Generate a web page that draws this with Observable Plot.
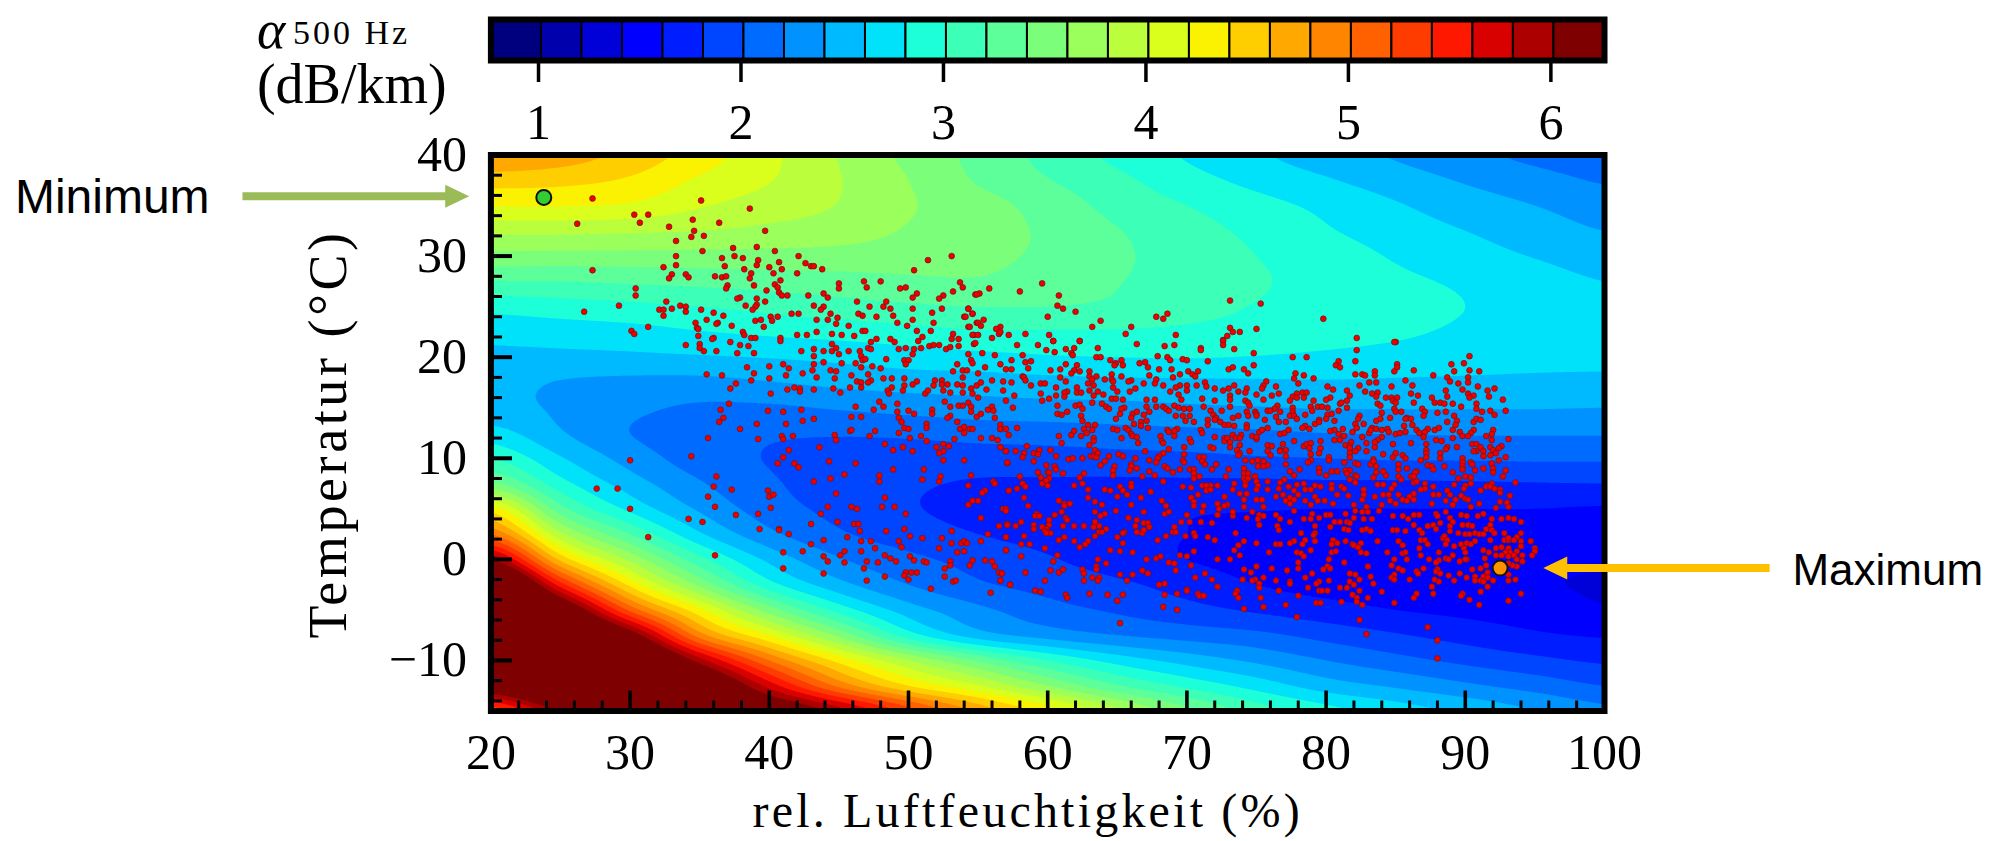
<!DOCTYPE html>
<html>
<head>
<meta charset="utf-8">
<script src="https://cdn.jsdelivr.net/npm/d3@7"></script>
<script src="https://cdn.jsdelivr.net/npm/@observablehq/plot@0.6"></script>
<style>
html,body{margin:0;padding:0;background:#fff;}
#chart{width:2003px;height:841px;position:relative;overflow:hidden;}
svg{display:block;overflow:visible;}
.ylab{letter-spacing:3.6px;}
.xlab{letter-spacing:3.2px;}
.sub{letter-spacing:3px;}
</style>
</head>
<body>
<div id="chart"></div>
<script>
// colour bar
const levels = [1,1.2,1.4,1.6,1.8,2,2.2,2.4,2.6,2.8,3,3.2,3.4,3.6,3.8,4,4.2,4.4,4.6,4.8,5,5.2,5.4,5.6,5.8,6];
const barEdges = [0.75,...levels,6.25];
const jetColors = ["#00007f","#0000ac","#0000d9","#0000ff","#001dff","#0045ff","#006cff","#0093ff","#00baff","#00e1fa","#1cffd8","#3cffb8","#5cff99","#7bff7b","#9bff5c","#bbff3c","#daff1c","#faf200","#ffce00","#ffa900","#ff8500","#ff6100","#ff3c00","#ff1800","#d90000","#ac0000","#7f0000"];
const barTicks = [1,2,3,4,5,6];

// field: rows temperature, columns humidity
const humidityGrid = [20,25,30,35,40,45,50,55,60,65,70,75,80,85,90,95,100];
const temperatureGrid = [40,37.5,35,32.5,30,27.5,25,22.5,20,17.5,15,12.5,10,7.5,5,2.5,0,-2.5,-5,-7.5,-10,-12.5,-15];
const alpha40  = [4.8,4.7,4.53,4.3,4.05,3.79,3.55,3.34,3.14,2.95,2.78,2.63,2.5,2.38,2.26,2.15,2.06];
const alpha37h = [4.49,4.46,4.37,4.17,4.01,3.81,3.6,3.38,3.21,3.05,2.88,2.74,2.62,2.5,2.38,2.28,2.18];
const alpha35  = [4.21,4.21,4.17,4.02,3.9,3.79,3.62,3.48,3.32,3.13,3.0,2.87,2.75,2.62,2.5,2.4,2.3];
const alpha32h = [3.85,3.85,3.83,3.8,3.75,3.7,3.58,3.47,3.37,3.21,3.08,2.95,2.82,2.7,2.6,2.5,2.4];
const alpha30  = [3.54,3.53,3.53,3.53,3.53,3.52,3.49,3.45,3.36,3.23,3.12,3.0,2.9,2.78,2.68,2.59,2.5];
const alpha27h = [3.2,3.2,3.23,3.26,3.29,3.32,3.36,3.38,3.3,3.21,3.1,3.02,2.93,2.84,2.77,2.69,2.6];
const alpha25  = [2.87,2.91,2.95,3.0,3.06,3.12,3.17,3.2,3.2,3.16,3.07,2.99,2.93,2.87,2.8,2.74,2.68];
const alpha22h = [2.67,2.7,2.73,2.79,2.84,2.88,2.93,2.98,2.98,2.98,2.96,2.93,2.88,2.83,2.77,2.72,2.7];
const alpha20  = [2.55,2.55,2.56,2.58,2.61,2.65,2.7,2.74,2.78,2.8,2.81,2.79,2.76,2.73,2.7,2.67,2.65];
const alpha17h = [2.47,2.39,2.35,2.34,2.39,2.45,2.49,2.5,2.53,2.55,2.56,2.57,2.58,2.57,2.56,2.55,2.55];
const alpha15  = [2.47,2.37,2.25,2.17,2.17,2.22,2.27,2.31,2.33,2.34,2.37,2.39,2.41,2.41,2.41,2.41,2.4];
const alpha12h = [2.68,2.42,2.2,2.08,2.03,2.02,2.04,2.08,2.1,2.13,2.15,2.17,2.2,2.21,2.22,2.22,2.22];
const alpha10  = [3.0,2.62,2.32,2.1,1.99,1.93,1.9,1.9,1.91,1.93,1.95,1.98,2.0,2.02,2.02,2.03,2.03];
const alpha7h  = [3.45,2.88,2.5,2.22,2.03,1.9,1.83,1.78,1.77,1.76,1.76,1.76,1.77,1.77,1.78,1.79,1.8];
const alpha5   = [4.3,3.28,2.75,2.37,2.1,1.94,1.82,1.74,1.69,1.65,1.62,1.61,1.6,1.6,1.6,1.6,1.58];
const alpha2h  = [5.0,3.85,3.2,2.63,2.25,2.03,1.9,1.8,1.73,1.66,1.6,1.56,1.54,1.52,1.51,1.51,1.5];
const alpha0   = [6.0,4.55,3.75,3.07,2.55,2.22,2.05,1.93,1.82,1.7,1.6,1.54,1.5,1.47,1.45,1.44,1.43];
const alphaM2h = [7.1,5.5,4.35,3.55,2.88,2.47,2.2,2.03,1.93,1.84,1.72,1.6,1.53,1.49,1.46,1.42,1.38];
const alphaM5  = [7.6,6.5,5.15,4.25,3.5,2.92,2.5,2.25,2.08,1.97,1.87,1.77,1.68,1.6,1.55,1.5,1.42];
const alphaM7h = [7.9,7.2,6.2,4.9,4.2,3.55,2.9,2.5,2.32,2.2,2.12,2.05,1.93,1.82,1.72,1.63,1.58];
const alphaM10 = [7.4,7.6,6.95,5.9,5.0,4.33,3.8,3.37,3.0,2.72,2.52,2.36,2.2,2.07,1.95,1.85,1.77];
const alphaM12h= [6.4,7.0,7.0,6.6,5.72,4.95,4.4,4.02,3.6,3.22,2.95,2.72,2.5,2.37,2.24,2.12,2.0];
const alphaM15 = [5.25,6.05,6.5,6.7,6.4,5.9,5.3,4.75,4.3,3.85,3.45,3.1,2.87,2.7,2.55,2.4,2.25];
const alphaRows = [alpha40,alpha37h,alpha35,alpha32h,alpha30,alpha27h,alpha25,alpha22h,alpha20,alpha17h,alpha15,alpha12h,alpha10,alpha7h,alpha5,alpha2h,alpha0,alphaM2h,alphaM5,alphaM7h,alphaM10,alphaM12h,alphaM15];

// measurements, humidity,temperature pairs
const punkteOben = [27.3,35.7,35.1,35.5,38.6,34.7,30.3,34.1,31.3,34.1,30.7,33.3,36.4,33.3,26.2,33.2,34.5,33.6,32.8,32.9,34.6,32.5,34.4,31.9,35.3,32.0,39.7,32.5,33.3,31.5,35.2,30.5,37.4,30.8,39.1,30.9,40.4,30.5,33.3,30.0,36.6,29.8,37.5,30.0,38.1,29.8,42.1,30.0,51.4,29.6,53.1,30.0,33.3,29.1,32.4,28.9,36.8,29.0,39.2,29.6,39.1,29.1,40.7,29.4,42.6,29.3,43.0,29.0,43.2,29.0,43.8,28.7,27.3,28.6,38.2,28.7,40.0,28.9,40.9,28.7,50.4,28.6,38.7,28.3,40.3,28.3,42.0,28.3,33.0,28.2,34.0,28.2,34.2,27.9,32.8,27.8,36.1,28.0,36.6,27.9,36.9,28.0,38.6,27.8,40.8,27.6,45.0,27.3,46.8,27.5,48.0,27.5,53.7,27.4,47.0,26.9,53.9,26.9,49.4,26.8,49.8,26.9,45.0,26.8,30.4,26.8,37.0,27.1,36.9,26.8,38.9,27.1,40.4,27.2,40.6,26.9,39.8,26.6,53.2,26.5,40.7,26.4,40.9,26.1,41.3,26.1,30.4,26.1,42.8,26.1,43.9,26.3,44.2,25.9,50.6,26.3,50.3,25.9,52.5,26.1,52.2,25.8,54.8,26.2,39.1,25.8,37.9,25.9,37.7,25.8,39.7,25.5,32.6,25.5,46.3,25.5,48.4,25.5,29.2,25.1,33.6,25.1,34.0,25.0,38.3,25.1,39.1,25.2,39.0,25.0,43.2,25.1,43.9,25.0,47.2,25.0,48.2,25.0,48.7,24.8,50.3,24.8,52.4,24.8,54.3,24.8,32.1,24.7,32.4,24.7,33.0,24.8,34.0,24.5,35.1,24.7,38.8,24.7,43.7,24.7,26.7,24.5,36.0,24.4,32.4,24.1,36.7,24.1,41.6,24.3,42.1,24.3,44.4,24.3,46.4,24.3,46.7,24.1,47.7,24.0,48.9,24.1,51.7,24.4,54.6,24.3,54.0,24.0,40.1,24.0,40.6,24.0,40.2,23.6,44.9,23.9,43.4,23.7,44.2,23.7,50.3,23.7,35.5,23.7,39.0,23.6,39.4,23.7,34.7,23.4,36.3,23.4,36.2,23.3,49.2,23.4,51.8,23.4,54.9,23.4,44.8,23.3,31.3,23.0,37.3,23.1,39.6,23.0,45.7,23.1,49.9,23.1,54.3,23.0,34.8,22.9,34.9,22.8,30.1,22.6,30.3,22.3,38.1,22.5,38.2,22.2,43.4,22.5,46.7,22.6,46.9,22.6,50.6,22.6,51.6,22.6,34.9,22.1,42.0,22.2,42.7,22.2,44.5,22.3,45.2,22.2,46.1,22.1,53.2,22.3,54.7,22.2,36.0,21.9,35.9,21.8,38.7,21.9,39.0,21.9,40.8,21.9,40.8,21.6,47.7,21.8,48.7,21.8,51.0,22.0,50.7,21.6,53.1,21.8,53.6,21.8,37.2,21.5,47.3,21.5,49.0,21.5,44.5,21.3,54.7,21.3,34.0,21.2,35.0,21.3,37.9,21.2,38.5,21.1,49.3,20.8,49.8,20.9,50.4,20.8,50.9,20.9,51.5,21.1,51.8,21.2,52.2,21.2,52.7,20.8,53.0,21.0,53.6,21.1,47.1,20.9,47.3,20.8,35.0,20.9,35.3,20.6,36.2,20.6,42.3,20.6,43.2,20.8,43.9,20.6,44.5,20.6,44.8,20.9,45.7,20.6,46.5,20.6,37.7,20.4,38.9,20.4,45.0,20.3,54.3,20.3,43.2,20.1,46.6,20.1,50.3,20.3,46.7,19.7,46.9,19.8,48.4,19.8,49.7,19.7,50.0,19.7,54.5,19.7,54.6,19.4,43.9,19.5,45.2,19.4,46.2,19.4,49.8,19.3,43.2,19.3,38.4,19.0,40.0,19.1,41.0,19.3,41.4,18.9,46.6,19.0,47.4,19.1,53.5,19.3,43.1,18.7,44.4,18.7,44.8,18.6,48.0,18.9,35.5,18.3,36.6,18.2,38.9,18.4,41.2,18.2,42.4,18.4,47.1,18.3,45.9,18.2,53.2,18.6,53.9,18.7,54.2,18.7,53.9,18.0,40.0,17.9,38.7,17.7,43.4,18.0,44.7,17.9,48.2,17.9,48.8,17.9,49.7,17.9,50.6,17.6,51.9,17.7,52.4,17.7,50.3,17.3,46.3,17.6,47.3,17.7,47.1,17.5,46.6,17.5,52.4,17.3,52.8,17.3,53.5,17.3,53.9,17.2,54.9,17.2,37.6,17.4,37.2,16.9,41.8,17.0,42.2,16.9,42.2,16.6,41.3,16.8,43.2,16.8,44.6,16.9,45.8,17.0,46.6,17.0,48.8,17.0,49.7,17.2,51.8,17.2,54.5,16.9,40.1,16.4,45.1,16.5,48.5,16.7,49.6,16.7,51.2,16.4,51.4,16.7,52.5,16.7,53.0,16.5,53.9,16.5,54.6,16.4,48.6,16.4,27.6,7.0,29.1,7.0,30.0,9.8,30.0,5.0,54.8,21.4,55.3,20.4,55.0,18.4,55.5,19.0,55.2,17.5,55.6,16.8,55.0,16.0,56.0,17.7,56.2,20.2,55.8,26.8,55.1,26.3,54.9,26.2,54.3,24.8,54.6,24.3,54.1,24.0,55.4,23.7,55.0,23.4,55.2,23.1,54.4,23.0,54.6,22.2,55.0,22.2,56.0,21.9,56.5,22.3];
const punkteMitteLinks = [37.1,15.4,36.5,14.8,36.7,14.0,36.4,13.6,37.9,12.9,39.9,14.7,39.1,13.4,41.0,14.6,41.2,13.4,42.3,14.8,42.4,13.7,43.2,13.9,35.6,12.0,39.2,11.9,40.9,12.2,41.0,11.9,41.7,12.2,44.7,12.3,44.8,11.8,45.8,12.7,45.9,12.8,45.9,14.1,46.6,14.1,46.2,15.1,47.5,14.8,47.6,12.7,47.2,12.2,48.2,15.1,47.9,15.6,49.2,15.4,49.2,14.6,49.3,14.0,49.5,13.6,49.7,13.0,50.0,12.9,49.3,12.5,50.1,12.0,50.0,14.7,50.4,14.4,51.7,14.8,51.7,14.4,51.3,13.4,51.3,13.0,50.9,12.2,51.3,11.7,52.6,15.6,53.0,15.1,53.0,14.2,52.8,14.0,53.5,13.6,53.6,15.2,53.9,15.2,54.3,15.5,54.5,15.1,54.5,14.6,54.9,14.1,55.2,14.4,55.7,14.8,56.0,15.1,56.1,14.7,56.2,14.0,53.7,12.9,54.0,13.1,54.0,12.5,54.4,12.9,54.6,12.9,53.3,11.9,55.2,12.0,56.0,12.0,56.4,11.8,56.6,13.3,56.6,12.9,34.4,10.2,41.4,10.8,41.0,10.1,40.6,9.5,41.8,9.5,42.1,9.1,43.6,11.1,44.3,9.7,46.2,9.5,48.3,11.4,48.9,10.8,49.6,11.1,50.3,10.7,52.0,11.1,52.5,11.4,52.9,11.2,52.5,10.7,52.2,10.5,52.5,9.8,54.0,9.8,56.6,11.1,57.0,10.7,57.1,9.5,36.2,8.2,36.0,7.2,37.3,6.9,35.6,6.2,36.1,5.2,37.6,4.4,34.2,4.0,35.2,3.7,31.3,2.2,36.1,0.4,39.9,6.8,40.0,6.2,40.3,6.4,40.1,5.1,39.2,4.5,39.3,3.0,40.7,3.0,40.7,2.9,41.4,2.5,43.2,7.7,44.4,8.0,45.4,8.4,47.9,8.3,47.9,7.7,48.9,8.9,51.1,8.9,51.0,7.9,52.3,8.2,52.2,7.7,54.5,8.3,54.3,7.3,56.1,7.7,56.2,7.5,55.5,6.8,55.3,6.6,57.2,6.8,44.8,6.5,48.3,6.1,44.2,5.2,45.9,5.2,46.3,5.0,48.1,5.2,49.0,5.2,54.6,5.8,55.0,5.8,54.3,5.4,56.8,5.0,57.0,5.0,43.7,4.5,49.8,4.5,55.2,4.1,44.9,3.7,43.0,3.5,46.1,3.5,46.4,3.5,56.5,3.3,57.1,3.5,46.5,2.8,48.4,2.8,49.7,3.0,53.1,2.8,55.7,2.5,45.6,2.2,50.1,2.3,51.0,2.1,52.4,2.1,57.0,2.2,43.9,1.9,43.0,1.5,46.6,1.8,47.3,1.8,49.3,1.8,53.1,1.6,53.8,1.6,54.0,1.8,54.2,1.6,55.2,1.8,49.5,1.2,47.6,1.1,52.2,1.1,57.0,0.9,41.0,0.7,42.4,0.8,45.4,0.8,46.6,0.8,45.1,0.4,43.9,0.3,48.3,0.4,48.7,0.1,50.1,0.3,53.5,0.7,54.0,0.8,44.2,-0.2,45.4,-0.3,47.0,-0.2,47.8,-0.3,49.1,-0.2,50.4,-0.1,51.1,-0.2,51.3,-0.3,53.0,-0.2,54.6,-0.1,55.5,-0.1,56.0,-0.2,41.0,-0.9,46.8,-0.9,53.0,-0.6,52.6,-0.9,54.4,-0.6,56.2,-0.7,43.9,-1.4,49.8,-1.3,50.2,-1.3,50.6,-1.3,49.7,-1.6,48.3,-1.7,52.6,-1.7,56.5,-1.3,56.7,-1.4,47.0,-2.1,50.0,-2.0,53.2,-2.2,53.4,-2.1,56.6,-2.1,57.3,-2.5,51.6,-2.9,55.9,-3.3];
const punkteMitteOben = [59.6,27.3,58.0,26.5,60.8,26.1,60.7,25.1,61.1,24.8,62.0,24.5,73.1,25.6,75.3,25.3,79.8,23.8,60.0,24.0,67.8,24.0,68.6,24.3,68.3,23.8,63.8,23.6,63.2,23.0,66.0,23.0,56.6,23.0,56.3,22.8,56.6,22.5,58.4,22.3,57.2,22.2,60.1,22.2,65.6,22.3,69.2,22.2,73.1,22.9,73.3,22.5,73.8,22.5,75.0,22.8,72.9,22.1,72.6,21.7,82.2,21.9,85.0,21.5,60.4,21.6,62.3,21.6,57.8,21.2,59.3,21.2,60.4,21.6,62.3,21.6,61.3,20.8,61.9,20.9,63.6,20.9,66.4,21.3,68.4,21.1,69.1,21.2,71.0,20.9,71.0,20.7,72.6,21.6,72.6,21.2,73.4,20.8,59.9,20.7,60.5,20.5,61.7,20.4,61.8,20.2,58.2,20.2,74.8,20.4,63.5,20.0,63.8,20.0,67.9,20.1,68.6,20.0,68.8,19.7,69.7,19.8,70.0,19.7,71.5,19.6,57.4,19.7,58.4,19.5,58.8,19.6,64.5,19.7,65.3,19.7,64.9,19.4,64.8,19.2,66.6,19.4,67.0,19.5,65.4,19.2,61.3,19.3,62.1,19.2,74.8,19.2,56.6,19.3,57.0,18.8,57.4,18.8,58.6,18.9,60.2,18.7,60.9,18.8,61.9,18.7,62.3,18.6,63.0,18.6,67.2,19.0,68.0,18.8,68.9,18.8,73.0,18.8,73.3,19.0,74.1,18.8,74.4,18.4,70.8,18.6,70.1,18.6,70.4,18.3,58.2,18.1,58.3,18.0,58.4,17.7,61.7,18.4,60.9,18.0,61.3,17.6,63.0,18.1,63.5,18.1,63.2,17.8,64.1,17.8,64.6,18.3,65.3,18.1,64.6,17.8,67.3,18.2,67.8,17.8,69.0,18.0,69.5,18.3,70.6,18.1,56.8,17.6,57.4,17.5,58.8,17.2,59.5,17.4,59.8,17.4,62.9,17.4,63.3,17.2,64.7,17.6,66.0,17.7,65.8,17.6,66.9,17.4,67.7,17.4,68.3,17.2,69.5,17.2,70.0,17.2,70.7,17.2,71.3,17.5,71.4,17.1,73.4,17.2,75.7,17.6,75.5,17.2,56.8,16.7,60.6,17.0,62.1,17.0,64.7,17.0,65.0,16.6,66.3,16.9,65.9,16.6,69.2,17.0,68.8,16.6,69.4,16.3,70.0,16.7,72.0,16.9,72.6,16.7,73.0,16.9,73.7,16.6,74.3,16.9,74.2,16.5,75.4,16.9,61.4,16.6,62.1,16.5,62.4,16.5,63.0,16.7,63.6,16.6,57.6,16.2,59.5,16.4,60.6,16.2,61.2,16.5,61.2,16.1,63.3,16.2,64.0,16.3,64.6,15.9,64.9,15.9,65.4,15.8,71.1,15.9,73.1,16.2,75.0,16.3,60.1,15.9,57.0,15.7,59.6,15.7,63.2,15.5,67.1,15.8,67.7,15.8,69.6,15.8,72.0,15.7,73.1,15.8,74.2,15.7,74.4,15.5,75.5,15.8,57.5,15.0,60.7,15.2,62.0,15.2,62.3,15.3,63.9,15.4,64.2,15.1,64.4,14.9,65.5,15.0,65.3,14.9,67.1,15.1,67.8,15.1,68.3,15.1,69.1,15.2,68.5,14.9,68.7,14.7,69.4,15.0,69.8,14.9,70.2,14.9,71.2,15.1,73.1,15.1,74.5,15.2,71.7,14.7,72.5,14.7,62.5,14.9,60.7,14.4,61.0,14.3,61.4,14.6,62.4,14.2,65.2,14.4,66.1,14.4,66.4,14.6,66.9,14.3,67.3,14.6,69.2,14.2,69.7,14.2,70.2,14.2,71.9,14.3,72.1,14.0,71.5,13.8,73.3,14.0,73.7,14.2,74.3,14.6,74.9,14.6,75.0,14.4,74.4,14.2,75.0,14.2,75.8,14.7,64.9,13.9,66.0,14.0,62.5,13.7,66.2,13.4,66.7,13.6,67.1,13.7,69.9,13.7,70.5,13.6,71.5,13.3,72.0,13.8,72.4,13.6,72.7,13.3,73.0,13.3,73.4,13.2,74.3,13.3,75.6,13.8,56.6,12.9,57.0,12.9,57.8,13.0,62.9,13.3,63.4,13.3,62.6,12.9,67.2,13.0,65.6,13.0,64.7,12.9,66.7,13.2,74.3,13.0,71.0,12.8,69.3,12.9,68.6,12.8,69.1,12.7,65.8,12.8,75.8,13.0,57.2,12.3,60.8,12.2,61.7,12.3,61.9,12.7,62.4,12.2,62.8,12.5,63.2,12.8,65.0,12.8,65.3,12.0,66.0,12.4,66.1,12.2,66.4,12.1,68.1,12.2,68.7,12.6,69.1,12.2,71.1,12.5,72.0,12.1,72.7,12.0,73.3,12.3,73.9,12.3,75.2,12.6,75.4,12.8,74.7,12.2,61.0,11.5,63.3,12.0,63.3,11.7,66.5,11.5,68.2,11.7,68.3,11.5,70.2,11.9,70.3,11.6,72.7,11.7,72.9,12.0,73.1,11.6,73.5,12.0,73.8,12.0,75.0,11.9,73.8,11.3,75.0,12.1,56.6,11.1,58.5,11.2,63.0,11.3,69.8,11.1,71.7,11.1,71.9,11.0,73.1,11.1,75.8,11.3,57.0,10.7,57.7,10.7,58.3,10.5,59.4,10.8,60.2,10.8,59.0,10.5,59.3,10.4,63.4,10.8,63.6,10.5,67.0,10.7,68.7,10.9,68.3,10.5,73.6,10.8,73.8,10.5,74.5,10.7,75.8,10.7,58.2,10.1,60.6,10.2,63.1,10.2,63.3,10.2,63.5,10.1,64.4,10.2,65.1,10.4,65.4,10.2,66.3,10.0,68.0,10.2,67.9,10.0,69.8,10.4,70.9,10.1,71.2,10.1,73.7,10.3,61.5,9.9,61.8,10.0,62.5,10.0,57.1,9.6,59.0,9.7,64.1,9.7,66.0,9.4,67.3,9.8,67.8,9.6,69.7,9.8,69.8,9.6,71.1,9.7,71.3,9.4,72.1,9.4,74.2,9.8,74.7,9.7,75.1,9.8,75.5,9.7,75.8,9.3,59.9,9.3,60.5,9.2,63.8,9.3,64.8,9.2,66.4,9.0,66.0,9.2,68.4,9.2,68.6,9.0,69.5,8.9,70.2,8.9,70.5,8.9,71.8,8.9,73.0,8.9,74.1,9.0,75.1,9.2,75.5,9.2,59.3,8.6,60.0,8.6,60.1,8.6,60.6,8.9,61.1,8.5,62.6,8.5,64.7,8.8,64.7,8.3,65.9,8.8,67.3,8.7,67.7,8.3,69.0,8.6,70.5,8.5,70.5,8.0,70.9,8.2,72.8,8.2,74.1,8.5,74.4,8.5,74.9,8.2,74.1,8.0,58.0,8.2,59.5,8.1,60.1,8.0,62.3,8.1,66.8,8.2,68.3,7.7,74.2,7.7,74.4,8.0,59.9,7.8,58.2,7.5,59.6,7.5,60.0,7.3,61.9,7.3,62.5,7.5,58.4,7.2,57.8,7.0,66.0,7.5,66.0,7.2,71.1,7.3,71.7,7.3,72.2,7.3,71.4,7.3,69.7,7.2,70.3,7.1,73.4,7.5,74.2,7.3,75.0,7.7,75.1,7.3,75.8,7.7,57.2,6.8,62.9,6.9,64.1,6.9,64.5,6.8,65.2,7.2,65.4,6.8,67.4,6.7,71.4,6.8,71.7,6.9,73.3,6.9,73.8,6.5,74.3,6.5,75.0,6.9,75.8,6.9,58.3,6.1,62.9,6.1,65.0,6.2,65.7,6.4,66.7,6.1,70.3,6.1,70.8,6.4,72.7,6.2,74.1,5.9,75.0,5.9,75.4,5.9,58.6,5.3,60.8,5.8,61.2,5.5,61.6,5.5,61.2,5.3,63.4,5.7,63.9,5.4,66.0,5.4,68.2,5.8,68.5,5.3,70.5,5.7,70.5,5.3,71.2,5.3,72.2,5.5,72.9,5.4,72.7,5.3,72.3,5.0,74.1,5.2,75.5,5.2];
const punkteMitteUnten = [57.0,4.8,59.2,4.5,59.1,4.3,59.4,4.3,61.0,4.7,60.5,4.4,63.4,4.7,64.1,4.5,63.8,4.3,64.9,4.8,65.8,4.1,66.9,4.7,68.4,4.5,68.7,4.7,70.0,4.4,71.1,4.7,72.2,4.4,73.3,4.3,73.3,4.7,74.3,4.1,75.2,4.4,75.1,4.0,74.7,4.7,75.5,4.3,58.1,3.7,60.1,3.9,61.3,4.1,61.4,3.9,63.4,3.7,66.4,3.9,66.9,3.6,67.2,3.6,69.6,3.7,70.2,3.7,71.0,3.7,71.8,3.6,75.2,3.4,57.1,3.4,57.7,3.3,59.0,3.4,59.0,3.0,59.6,3.2,60.1,3.4,59.9,3.0,61.1,3.3,61.9,3.3,62.6,3.3,63.3,3.2,63.7,3.3,64.2,3.0,66.3,3.3,67.3,3.2,69.1,3.2,59.8,2.8,60.2,2.6,59.9,2.6,63.7,2.7,63.9,2.7,65.5,2.7,65.4,2.6,66.4,2.7,66.8,2.6,66.9,2.9,69.0,2.7,69.2,2.7,70.5,2.6,73.5,2.6,57.0,2.2,58.3,2.3,61.2,2.2,63.4,2.3,65.0,2.2,68.5,2.3,69.9,2.3,70.6,2.3,71.5,2.2,72.0,1.9,74.1,1.8,60.8,1.9,61.9,1.8,62.9,1.8,67.9,1.9,58.1,1.5,58.7,1.5,62.7,1.5,65.4,1.6,62.3,1.2,73.7,1.4,75.0,1.6,57.0,0.9,59.8,1.1,64.5,0.9,65.2,0.8,66.1,0.7,70.5,0.8,73.4,0.9,75.9,0.7,58.1,0.3,60.7,0.4,69.5,0.4,70.0,0.3,73.8,0.4,63.6,0.0,67.1,0.0,67.8,0.1,68.1,0.3,72.2,0.0,73.1,0.0,60.4,-0.2,64.2,-0.4,68.7,-0.3,69.1,-0.4,70.3,-0.6,75.0,-0.7,63.5,-0.7,62.5,-1.0,63.5,-1.0,69.2,-1.1,66.8,-1.1,74.1,-1.0,56.7,-1.4,58.4,-1.3,60.2,-1.1,60.8,-1.3,61.1,-1.0,62.6,-1.4,65.2,-1.5,66.1,-1.5,67.2,-1.4,71.3,-1.4,74.6,-1.3,63.2,-1.8,63.7,-1.8,70.6,-1.8,71.8,-2.0,74.0,-2.0,74.9,-2.0,75.5,-1.8,74.7,-2.1,56.6,-2.1,59.8,-2.1,62.6,-2.1,63.6,-2.1,65.7,-2.1,75.2,-2.4,57.3,-2.5,68.0,-2.5,68.4,-2.4,72.2,-2.7,75.2,-2.8,59.1,-3.1,59.5,-3.2,70.0,-3.0,70.0,-3.1,73.6,-3.1,70.8,-3.4,73.5,-3.4,61.3,-3.5,61.4,-3.8,63.0,-3.4,64.3,-3.5,65.4,-3.5,68.4,-3.5,69.3,-3.4,70.9,-3.6,71.2,-3.6,73.7,-3.8,75.3,-3.8,65.0,-4.1,68.3,-4.7,69.3,-5.0,74.1,-4.9,75.5,-4.7,65.2,-6.3];
const punkteRechtsOben = [84.9,21.5,82.2,20.7,77.6,20.0,78.6,20.0,90.3,20.1,80.9,19.6,82.1,19.6,80.7,19.2,81.0,19.0,85.1,19.3,85.1,19.0,89.0,19.3,89.9,19.4,84.9,18.6,83.5,18.6,86.3,18.7,89.2,18.6,90.3,18.7,91.0,18.6,77.8,18.4,78.4,18.2,82.1,18.3,82.6,18.3,82.8,18.2,83.5,18.2,87.7,18.2,88.7,18.0,90.2,18.0,77.7,17.9,79.1,17.9,85.7,17.7,88.9,17.6,90.2,17.5,78.0,17.4,83.1,17.5,83.6,17.5,86.2,17.2,89.5,17.4,76.4,17.1,80.1,17.1,82.4,17.2,84.7,17.1,89.8,16.8,90.9,17.1,92.1,16.9,80.5,16.8,81.5,16.7,82.8,16.6,88.6,16.7,91.6,16.7,76.1,16.2,76.6,16.4,77.9,16.4,78.3,16.5,78.6,16.5,81.7,16.2,83.3,16.4,83.7,16.5,86.1,16.4,86.6,16.2,90.2,16.4,90.6,16.2,91.7,16.1,88.7,16.1,77.6,16.1,77.9,16.0,78.4,16.0,80.3,16.0,81.5,15.7,83.6,16.1,84.3,16.0,84.7,16.0,85.1,16.0,87.6,16.0,90.3,16.0,92.7,15.8,77.4,15.7,79.1,15.7,80.0,15.8,84.8,15.7,76.5,15.2,81.0,15.4,81.1,15.5,83.7,15.4,85.0,15.5,86.3,15.5,87.8,15.5,88.2,15.5,88.5,15.4,89.1,15.4,90.8,15.4,76.3,14.9,77.6,15.0,78.9,15.1,79.4,15.1,79.7,15.1,80.1,15.0,81.5,15.0,83.9,15.2,89.7,15.1,90.8,14.9,76.7,14.6,76.0,14.7,77.6,14.6,79.0,14.7,80.9,14.7,84.9,14.9,86.9,14.9,84.0,14.5,85.0,14.6,85.4,14.6,87.1,14.6,88.0,14.5,88.6,14.6,91.2,14.6,91.8,14.7,92.9,14.7,76.4,14.1,77.4,14.2,77.7,14.2,78.5,14.3,80.1,14.3,80.4,14.4,82.4,14.2,84.6,14.0,85.8,14.0,87.0,14.2,89.2,14.2,92.1,14.3,77.9,13.9,77.1,13.6,76.6,13.6,79.5,13.8,80.0,13.9,80.6,13.7,82.3,13.9,83.6,13.7,83.9,13.9,85.7,13.9,86.1,13.9,88.7,13.6,89.4,13.7,90.6,13.6,90.8,13.9,91.1,13.8,78.5,13.2,79.2,13.4,79.5,13.6,82.1,13.4,82.7,13.4,85.6,13.2,86.2,13.3,89.3,13.3,78.3,13.0,78.8,12.9,80.6,12.8,81.2,12.9,80.3,12.7,81.9,12.6,82.2,13.0,83.3,13.0,83.6,12.9,84.4,12.9,84.0,12.8,86.5,12.8,87.3,12.9,87.8,12.8,88.1,13.0,89.1,12.8,92.0,12.8,90.6,12.8,76.7,12.4,77.0,12.5,77.3,12.8,80.9,12.4,81.3,12.2,83.1,12.5,83.2,12.8,84.5,12.6,85.0,12.4,85.3,12.5,85.7,12.6,86.7,12.5,87.1,12.6,89.6,12.6,90.4,12.5,91.9,12.4,89.8,12.2,90.2,12.2,91.5,12.2,87.0,12.1,89.1,12.0,80.6,11.8,81.0,11.8,81.8,11.6,82.6,12.1,84.0,12.1,77.7,11.7,79.6,11.7,83.7,11.8,82.9,11.5,83.5,11.6,87.9,11.8,88.3,11.7,93.1,11.9,91.9,11.8,76.1,11.2,76.9,11.4,78.4,11.2,78.6,11.4,78.9,11.5,81.4,11.3,81.7,11.2,84.8,11.4,86.1,11.5,87.2,11.4,83.5,11.1,88.7,11.1,89.4,11.1,90.5,11.4,90.8,11.4,91.8,11.1,92.6,11.2,76.7,10.8,77.1,10.8,78.8,11.0,79.6,11.0,81.7,11.0,82.3,11.0,87.2,10.8,88.6,10.9,90.8,10.7,91.1,11.1,91.3,10.7,92.0,10.8,92.4,11.0,76.0,10.3,76.7,10.7,77.1,10.2,78.9,10.4,79.5,10.5,81.7,10.5,82.1,10.7,82.9,10.7,84.1,10.4,85.0,10.5,85.5,10.3,88.2,10.5,87.2,10.5,90.6,10.7,91.8,10.3,92.2,10.5,91.3,10.2,78.9,9.8,80.2,10.1,80.2,9.8,81.7,10.1,83.4,9.9,84.8,10.1,85.7,10.0,87.2,10.1,88.2,10.0,89.8,10.0,92.4,9.8,92.9,10.1,78.7,9.6,81.3,9.6,77.1,9.4,82.1,9.5,82.3,9.4,83.2,9.4,83.4,9.7,85.2,9.4,86.8,9.8,89.8,9.6,90.4,9.6,90.5,9.4,91.9,9.5,79.5,9.0,78.1,8.9,77.4,8.7,81.7,8.8,81.4,8.8,83.6,9.2,83.6,8.6,85.2,8.9,85.8,9.0,86.5,8.7,87.3,9.3,87.6,9.2,88.5,9.2,89.8,9.2,91.3,9.0,92.0,9.0,89.8,8.9,92.9,8.8,87.7,8.9,90.7,8.8,77.7,8.3,79.5,8.6,80.0,8.3,80.4,8.7,80.8,8.7,81.5,8.5,82.1,8.3,83.4,8.1,84.3,8.3,84.1,8.7,85.2,8.2,86.1,8.2,86.4,8.6,89.1,8.6,90.4,8.1,92.0,8.6,92.7,8.2,77.0,7.9,76.7,7.6,81.7,7.9,82.2,8.2,85.4,7.9,86.3,8.2,86.3,7.6,89.5,8.0,90.0,8.2,90.0,7.3,91.6,7.3,91.9,7.5,93.6,7.6,76.6,7.0,77.3,7.2,77.9,7.4,78.4,7.5,79.2,7.3,79.6,7.2,80.4,7.4,81.1,7.2,82.1,7.6,83.7,7.4,84.1,7.4,84.9,7.4,84.7,7.0,87.1,7.5,86.5,7.7,87.7,7.2,89.2,7.4,90.4,7.5,91.5,7.2,92.5,6.9,77.7,6.8,78.5,6.9,78.9,6.9,80.4,7.0,81.3,7.0,82.7,6.9,87.1,7.0,86.3,6.5,86.8,6.9,88.7,6.8,89.9,7.0,91.1,6.8,91.8,7.2,92.1,7.0,76.4,6.2,76.9,6.4,77.4,6.1,78.0,6.4,79.2,6.2,80.8,6.4,81.6,6.3,82.7,6.4,84.1,6.4,84.5,6.4,85.2,6.4,86.0,6.2,87.7,6.4,88.1,6.4,88.9,6.4,89.7,6.3,90.0,6.0,93.2,6.3,92.5,6.6,77.1,5.8,77.7,5.9,78.5,5.8,79.9,5.8,80.5,5.5,82.6,5.9,83.5,6.2,84.6,5.8,85.5,5.9,85.8,5.8,86.3,5.9,87.6,5.5,88.6,5.8,89.3,5.9,90.2,5.9,91.0,5.5,92.5,5.7,93.0,5.6,77.4,5.5,78.9,5.4,79.4,5.8,82.0,5.4,82.9,5.2,84.0,5.4,85.0,5.5,89.1,5.4,90.4,5.2,92.2,5.1,93.1,5.2];
const punkteRechtsUnten = [76.4,4.4,76.7,4.0,77.4,3.7,76.5,3.3,76.6,2.9,77.7,4.8,78.4,4.0,79.0,4.5,78.9,4.0,79.5,4.1,80.0,4.4,80.3,4.4,81.4,4.5,82.1,4.8,82.6,4.7,83.0,4.7,83.8,4.8,82.0,4.1,82.7,4.0,83.3,4.0,80.6,3.7,81.0,3.7,81.5,3.7,79.2,3.3,80.3,3.2,81.7,3.6,81.3,3.0,81.6,2.9,82.6,2.9,82.9,3.0,83.2,2.8,84.8,4.3,85.5,4.3,85.9,4.0,86.3,4.4,86.7,4.4,86.3,3.4,87.3,3.3,87.7,3.4,88.2,3.6,87.9,3.0,84.8,2.9,85.1,2.9,85.7,2.8,86.7,2.9,86.9,2.6,87.9,4.5,88.0,4.3,88.6,4.7,88.9,4.1,89.1,3.7,88.9,3.3,88.9,2.8,89.7,4.4,90.1,4.3,90.9,4.3,89.8,3.4,90.2,3.4,90.5,3.3,91.3,4.5,91.9,4.0,92.6,4.0,93.1,4.1,93.5,4.0,94.0,3.7,91.8,3.4,91.5,3.0,91.9,2.9,89.5,2.6,90.0,2.5,90.3,2.5,90.7,2.6,91.0,2.5,91.3,2.5,92.1,2.6,92.8,2.6,94.0,2.6,78.2,2.6,79.2,2.6,79.1,2.4,80.5,1.9,78.5,1.9,79.2,1.8,77.7,1.8,77.4,1.6,78.3,1.5,76.4,1.5,76.7,1.5,80.8,1.6,81.4,1.8,80.4,1.5,81.9,1.5,82.5,1.6,82.0,1.4,82.3,1.2,83.7,1.8,85.2,1.8,85.5,1.4,86.8,1.9,87.1,1.9,87.3,1.5,88.4,2.1,88.5,2.3,88.7,1.9,88.6,1.5,89.2,1.3,89.7,1.5,90.1,1.6,90.4,1.5,90.7,1.8,91.8,1.9,92.8,1.9,93.1,1.9,93.7,2.2,94.0,1.8,94.7,1.8,93.1,2.1,93.5,1.9,78.9,0.9,77.9,0.7,78.2,0.6,80.4,0.7,80.7,0.8,82.5,0.7,82.9,0.6,84.4,0.7,85.5,0.6,85.7,0.7,86.7,1.1,88.1,0.7,89.9,1.1,90.0,0.7,91.3,0.9,91.7,0.7,92.2,1.1,92.6,1.2,93.1,1.1,94.0,1.3,95.0,1.1,95.0,0.8,93.2,0.7,92.9,0.7,93.7,0.8,94.8,0.4,78.4,0.3,86.8,0.4,89.1,0.4,90.1,0.0,88.6,0.1,88.8,0.0,85.8,0.0,84.9,0.0,87.4,0.0,88.1,-0.1,87.9,-0.3,89.6,-0.2,90.0,0.0,91.4,0.1,92.2,0.4,92.6,0.4,93.1,0.3,93.5,0.4,94.1,0.4,80.2,0.0,93.7,0.0,94.1,-0.2,78.0,-0.3,78.0,-0.9,81.3,-0.3,83.0,-0.7,80.1,-0.7,80.3,-0.9,79.8,-1.0,84.7,-0.6,85.2,-0.9,87.0,-0.9,90.5,-1.0,91.1,-0.9,91.5,-0.6,93.7,-0.7,76.1,-0.9,88.0,-1.0,93.4,-0.6,93.1,-0.4,77.2,-1.1,85.5,-1.1,86.5,-1.2,86.6,-1.4,87.9,-1.2,88.2,-1.4,89.6,-1.4,91.6,-1.3,81.7,-1.4,79.0,-1.4,78.5,-1.8,82.1,-1.5,83.2,-1.7,84.9,-1.5,84.7,-1.8,88.8,-1.6,90.1,-1.8,90.7,-1.7,91.3,-1.7,91.6,-1.8,92.0,-2.1,93.1,-1.5,93.1,-2.1,93.6,-2.0,76.4,-2.1,77.4,-2.2,77.4,-2.4,79.5,-2.2,79.3,-2.4,80.2,-2.1,81.7,-2.2,82.4,-2.0,84.9,-2.0,86.0,-2.0,87.8,-2.0,88.1,-2.2,89.2,-2.1,90.7,-2.1,91.1,-2.1,91.3,-2.2,83.4,-2.4,82.0,-2.5,78.7,-2.8,81.0,-2.8,81.5,-2.8,87.6,-2.7,91.6,-2.7,76.6,-3.1,79.5,-3.1,79.7,-3.1,80.1,-3.1,82.4,-3.1,84.0,-3.2,86.5,-3.4,87.7,-3.4,89.8,-3.4,91.1,-3.2,94.0,-3.4,78.0,-3.6,81.9,-3.5,82.2,-3.8,83.0,-3.8,86.3,-3.8,89.7,-3.6,90.3,-4.0,93.1,-4.1,81.1,-4.2,82.2,-4.2,79.3,-4.3,79.6,-4.3,77.1,-4.5,82.6,-4.5,84.9,-4.3,91.0,-4.5,77.9,-5.7,82.4,-6.0,87.3,-6.7,82.9,-7.4,88.0,-8.0,88.0,-9.8];
const minimumPoint = [{h:23.8,t:35.8}];
const maximumPoint = [{h:92.5,t:-0.86}];

const flat = [...punkteOben,...punkteMitteLinks,...punkteMitteOben,...punkteMitteUnten,...punkteRechtsOben,...punkteRechtsUnten];
const measurements = d3.range(0,flat.length,2).map(i=>({h:flat[i],t:flat[i+1]}));

// smooth surface through the read table
const catmull=(a,b,c,d,u)=>0.5*(2*b+(c-a)*u+(2*a-5*b+4*c-d)*u*u+(3*b-a-3*c+d)*u*u*u);
function field(h,t){
  const last=alphaRows.length-1;
  const fx=Math.max(0,Math.min(15.9999,(h-20)/5)), fy=Math.max(0,Math.min(last-0.0001,(40-t)/2.5));
  const i=Math.floor(fx), j=Math.floor(fy), u=fx-i, v=fy-j;
  const cell=(jj)=>{
    const r=alphaRows[Math.max(0,Math.min(last,jj))];
    const g=(k)=>r[Math.max(0,Math.min(16,k))];
    return catmull(g(i-1),g(i),g(i+1),g(i+2),u);
  };
  return catmull(cell(j-1),cell(j),cell(j+1),cell(j+2),v);
}

const serif='"Liberation Serif","DejaVu Serif",serif';
const sans='"Liberation Sans",Arial,sans-serif';
const cells=jetColors.map((color,i)=>({x1:barEdges[i],x2:barEdges[i+1],color}));

const bar=Plot.plot({
  width:2003,height:140,marginLeft:490.4,marginRight:399,marginTop:19,marginBottom:80,
  x:{domain:[0.75,6.25],axis:null},y:{domain:[0,1],axis:null},
  color:{type:"identity"},
  marks:[
    Plot.rect(cells,{x1:"x1",x2:"x2",y1:()=>0,y2:()=>1,fill:"color",stroke:"black",strokeWidth:2}),
    Plot.frame({stroke:"black",strokeWidth:6}),
    Plot.axisX(barTicks,{anchor:"bottom",tickSize:22,tickPadding:21,strokeWidth:3.5,fontSize:50,fontFamily:serif,label:null,textStroke:"none",dx:-3,tickFormat:d=>`${d}`}),
    Plot.text(["α"],{frameAnchor:"top-left",dx:-234,dy:11,textAnchor:"start",lineAnchor:"middle",fontSize:54,fontStyle:"italic",fontFamily:serif}),
    Plot.text(["500 Hz"],{frameAnchor:"top-left",dx:-198,dy:14,textAnchor:"start",lineAnchor:"middle",fontSize:34,fontFamily:serif,className:"sub"}),
    Plot.text(["(dB/km)"],{frameAnchor:"top-left",dx:-234,dy:66,textAnchor:"start",lineAnchor:"middle",fontSize:56,fontFamily:serif})
  ]
});

const arrowShape={draw(c,l){const w=4,hw=11.5,hl=24;c.moveTo(-w,0);c.lineTo(-w,-l+hl);c.lineTo(-hw,-l+hl);c.lineTo(0,-l);c.lineTo(hw,-l+hl);c.lineTo(w,-l+hl);c.lineTo(w,0);c.closePath();}};
const fmt=d=>d<0?`\u2212${-d}`:`${d}`;
const majX=[30,40,50,60,70,80,90], minX=d3.range(22,100,2).filter(d=>d%10!==0);
const majY=[-10,0,10,20,30], minY=d3.range(-14,40,2).filter(d=>d%10!==0);
const W=1113.6,H=556;

const main=Plot.plot({
  width:2003,height:701,marginLeft:490.4,marginRight:399,marginTop:14.5,marginBottom:130.5,
  x:{domain:[20,100],axis:null},y:{domain:[-15,40],axis:null},
  color:{type:"threshold",domain:levels,range:jetColors},
  marks:[
    Plot.contour({fill:field,x1:20,x2:100,y1:-15,y2:40,pixelSize:1,thresholds:[0.5,...levels],stroke:"none"}),
    Plot.dot(measurements,{x:"h",y:"t",r:2.9,fill:"#ee0000",stroke:"#6a1414",strokeWidth:0.7}),
    Plot.dot(minimumPoint,{x:"h",y:"t",r:7.5,fill:"#33cc33",stroke:"#111",strokeWidth:2}),
    Plot.dot(maximumPoint,{x:"h",y:"t",r:7.5,fill:"#ff9000",stroke:"#111",strokeWidth:2}),
    Plot.tickX(minX,{x:d=>d,insetTop:H-10,strokeWidth:3}),
    Plot.tickX(majX,{x:d=>d,insetTop:H-20,strokeWidth:3.6}),
    Plot.tickY(minY,{y:d=>d,insetRight:W-11.6,strokeWidth:3}),
    Plot.tickY(majY,{y:d=>d,insetRight:W-21.6,strokeWidth:4}),
    Plot.frame({stroke:"black",strokeWidth:6}),
    Plot.axisX([20,30,40,50,60,70,80,90,100],{anchor:"bottom",tickSize:0,tickPadding:22,fontSize:50,fontFamily:serif,label:null,textStroke:"none",tickFormat:d=>`${d}`}),
    Plot.axisY([-10,0,10,20,30,40],{anchor:"left",tickSize:0,tickPadding:24,fontSize:50,fontFamily:serif,label:null,tickFormat:fmt,textStroke:"none"}),
    Plot.text(["rel. Luftfeuchtigkeit (%)"],{frameAnchor:"bottom",dx:-20,dy:116,className:"xlab",lineAnchor:"bottom",fontSize:48,fontFamily:serif}),
    Plot.text(["Temperatur (\u00b0C)"],{frameAnchor:"left",dx:-162,dy:1,rotate:-90,textAnchor:"middle",className:"ylab",fontSize:54,fontFamily:serif}),
    Plot.vector(minimumPoint,{x:()=>18.44,y:()=>35.93,rotate:90,length:226.7,anchor:"end",shape:arrowShape,fill:"#9bbb59",stroke:"none"}),
    Plot.vector(maximumPoint,{x:()=>95.6,y:"t",rotate:-90,length:226.4,anchor:"end",shape:arrowShape,fill:"#ffc000",stroke:"none"}),
    Plot.text(["Minimum"],{frameAnchor:"top-left",dx:-476,dy:43,textAnchor:"start",lineAnchor:"middle",fontSize:48,fontFamily:sans}),
    Plot.text(["Maximum"],{frameAnchor:"top-left",dx:1301.5,dy:416,textAnchor:"start",lineAnchor:"middle",fontSize:44,fontFamily:sans})
  ]
});
const root=document.getElementById("chart");
root.append(bar,main);
</script>
</body>
</html>
